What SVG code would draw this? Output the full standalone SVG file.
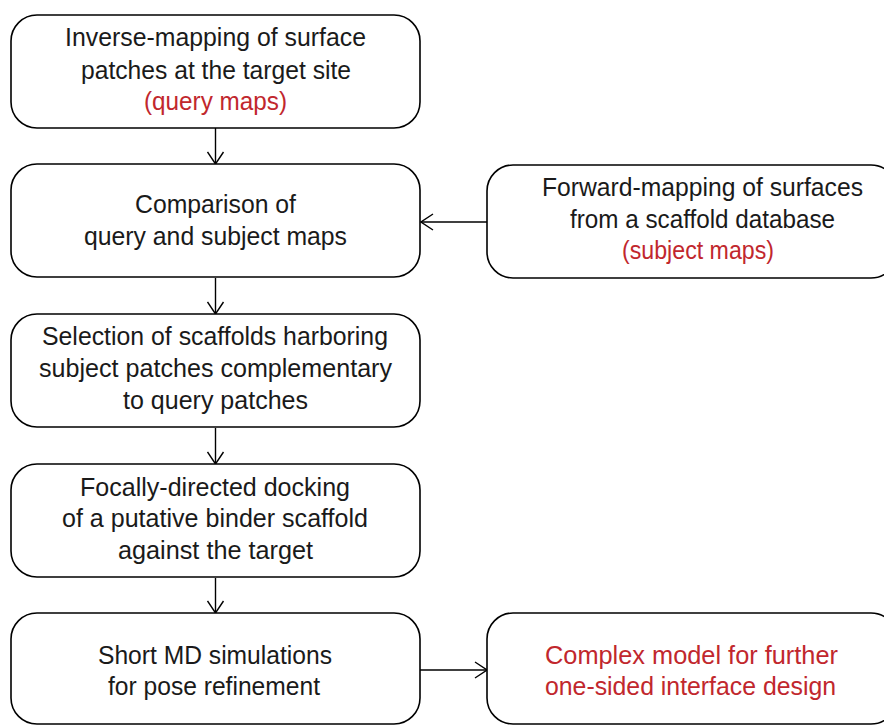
<svg xmlns="http://www.w3.org/2000/svg" width="884" height="725" viewBox="0 0 884 725">
<defs>
<style>
.box{fill:#fff;stroke:#000;stroke-width:1.6}
.t{font-family:"Liberation Sans",Arial,sans-serif;font-size:25px;fill:#1a1a1a}
.r{fill:#c1272d}
.c{stroke:#000;stroke-width:1.4;fill:none}
</style>
<marker id="ah" viewBox="0 0 14 18" refX="13" refY="9" markerWidth="14" markerHeight="18" markerUnits="userSpaceOnUse" orient="auto">
<path d="M1,1 L13,9 L1,17" fill="none" stroke="#000" stroke-width="1.4"/>
</marker>
</defs>
<rect width="884" height="725" fill="#fff"/>
<g id="connectors">
<line class="c" x1="215.5" y1="128" x2="215.5" y2="164" marker-end="url(#ah)"/>
<line class="c" x1="487" y1="222" x2="421" y2="222" marker-end="url(#ah)"/>
<line class="c" x1="215.5" y1="278" x2="215.5" y2="314" marker-end="url(#ah)"/>
<line class="c" x1="215.5" y1="428" x2="215.5" y2="464" marker-end="url(#ah)"/>
<line class="c" x1="215.5" y1="578" x2="215.5" y2="613" marker-end="url(#ah)"/>
<line class="c" x1="420" y1="670" x2="487" y2="670" marker-end="url(#ah)"/>
</g>
<g id="n1">
<rect class="box" x="11" y="15" width="409" height="113" rx="26"/>
<text class="t" x="65" y="46" textLength="301" lengthAdjust="spacingAndGlyphs">Inverse-mapping of surface</text>
<text class="t" x="81" y="79" textLength="270" lengthAdjust="spacingAndGlyphs">patches at the target site</text>
<text class="t r" x="144" y="110" textLength="143" lengthAdjust="spacingAndGlyphs">(query maps)</text>
</g>
<g id="n2">
<rect class="box" x="11" y="164" width="409" height="113" rx="26"/>
<text class="t" x="135" y="213" textLength="161" lengthAdjust="spacingAndGlyphs">Comparison of</text>
<text class="t" x="84" y="245" textLength="263" lengthAdjust="spacingAndGlyphs">query and subject maps</text>
</g>
<g id="n_forward">
<rect class="box" x="487" y="165" width="410" height="113" rx="26"/>
<text class="t" x="542" y="196" textLength="321" lengthAdjust="spacingAndGlyphs">Forward-mapping of surfaces</text>
<text class="t" x="570" y="228" textLength="265" lengthAdjust="spacingAndGlyphs">from a scaffold database</text>
<text class="t r" x="622" y="259" textLength="152" lengthAdjust="spacingAndGlyphs">(subject maps)</text>
</g>
<g id="n3">
<rect class="box" x="11" y="314" width="409" height="113" rx="26"/>
<text class="t" x="42" y="345" textLength="346" lengthAdjust="spacingAndGlyphs">Selection of scaffolds harboring</text>
<text class="t" x="39" y="377" textLength="353" lengthAdjust="spacingAndGlyphs">subject patches complementary</text>
<text class="t" x="123" y="409" textLength="185" lengthAdjust="spacingAndGlyphs">to query patches</text>
</g>
<g id="n4">
<rect class="box" x="11" y="464" width="409" height="113" rx="26"/>
<text class="t" x="80" y="496" textLength="270" lengthAdjust="spacingAndGlyphs">Focally-directed docking</text>
<text class="t" x="62" y="527" textLength="306" lengthAdjust="spacingAndGlyphs">of a putative binder scaffold</text>
<text class="t" x="118" y="559" textLength="195" lengthAdjust="spacingAndGlyphs">against the target</text>
</g>
<g id="n5">
<rect class="box" x="11" y="613" width="409" height="111" rx="26"/>
<text class="t" x="98" y="664" textLength="234" lengthAdjust="spacingAndGlyphs">Short MD simulations</text>
<text class="t" x="108" y="695" textLength="212" lengthAdjust="spacingAndGlyphs">for pose refinement</text>
</g>
<g id="n_complex">
<rect class="box" x="487" y="613" width="410" height="111" rx="26"/>
<text class="t r" x="545" y="664" textLength="293" lengthAdjust="spacingAndGlyphs">Complex model for further</text>
<text class="t r" x="545" y="695" textLength="291" lengthAdjust="spacingAndGlyphs">one-sided interface design</text>
</g>
</svg>
